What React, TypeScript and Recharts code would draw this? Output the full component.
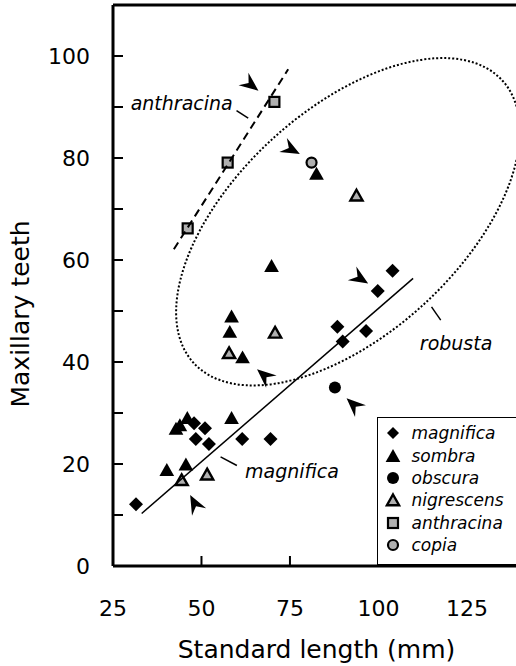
import React from 'react';
import { ScatterChart, Scatter, XAxis, YAxis, ReferenceLine, Label } from 'recharts';

// ---------- data ----------
const xTicks = [25, 50, 75, 100, 125];
const yTicks = [0, 10, 20, 30, 40, 50, 60, 70, 80, 90, 100];
const yLabelled = [0, 20, 40, 60, 80, 100];
const xTitle = 'Standard length (mm)';
const yTitle = 'Maxillary teeth';

const magnificaPts = [
  { x: 31.5, y: 12.1 }, { x: 47.9, y: 28.0 }, { x: 51.0, y: 27.0 }, { x: 48.4, y: 24.9 },
  { x: 52.1, y: 23.9 }, { x: 61.5, y: 24.9 }, { x: 69.5, y: 24.9 }, { x: 88.4, y: 46.9 },
  { x: 89.9, y: 44.0 }, { x: 96.5, y: 46.1 }, { x: 99.8, y: 53.9 }, { x: 104.0, y: 57.9 },
];
const sombraPts = [
  { x: 40.2, y: 18.8 }, { x: 45.6, y: 19.9 }, { x: 42.8, y: 26.9 }, { x: 43.9, y: 27.6 },
  { x: 46.0, y: 29.0 }, { x: 58.5, y: 29.0 }, { x: 61.6, y: 40.9 }, { x: 58.0, y: 45.9 },
  { x: 58.5, y: 48.9 }, { x: 69.8, y: 58.8 }, { x: 82.5, y: 76.9 },
];
const obscuraPts = [{ x: 87.7, y: 35.0 }];
const nigrescensPts = [
  { x: 44.4, y: 16.9 }, { x: 51.6, y: 18.0 }, { x: 57.8, y: 41.8 }, { x: 70.8, y: 45.8 }, { x: 93.8, y: 72.7 },
];
const anthracinaPts = [{ x: 46.1, y: 66.2 }, { x: 57.4, y: 79.1 }, { x: 70.6, y: 91.0 }];
const copiaPts = [{ x: 81.1, y: 79.1 }];

const magnificaFit = [{ x: 33.1, y: 10.3 }, { x: 109.8, y: 56.4 }];
const anthracinaFit = [{ x: 42.2, y: 62.1 }, { x: 74.5, y: 97.4 }];
// robusta ellipse: centre, end of major semi-axis, end of minor semi-axis
const robustaEllipse = [{ x: 91.4, y: 67.5 }, { x: 135.0, y: 95.2 }, { x: 112.8, y: 51.3 }];

const arrows = [
  { x: 66.1, y: 93.2, angle: 38 },
  { x: 77.8, y: 80.8, angle: 28 },
  { x: 97.1, y: 55.4, angle: 32 },
  { x: 65.7, y: 38.6, angle: -139 },
  { x: 91.0, y: 32.9, angle: -137 },
  { x: 46.8, y: 13.9, angle: -118 },
];
const annotations = [
  { x: 30.0, y: 89.4, text: 'anthracina' },
  { x: 111.7, y: 42.4, text: 'robusta' },
  { x: 62.3, y: 17.3, text: 'magnifica' },
];
const leaderAnthracina = [{ x: 59.9, y: 89.3 }, { x: 63.2, y: 87.8 }];
const leaderRobusta = [{ x: 115.0, y: 50.8 }, { x: 117.6, y: 48.2 }];
const leaderMagnifica = [{ x: 55.4, y: 21.4 }, { x: 60.0, y: 19.7 }];

const legendNames = ['magnifica', 'sombra', 'obscura', 'nigrescens', 'anthracina', 'copia'];

// ---------- styles ----------
const FONT = '"DejaVu Sans", Verdana, sans-serif';
const GREY = '#b0b0b0';

// ---------- marker shapes ----------
const diamondPath = (cx: number, cy: number) =>
  `M${cx},${cy - 7} L${cx + 7},${cy} L${cx},${cy + 7} L${cx - 7},${cy} Z`;
const triPath = (cx: number, cy: number, s: number) =>
  `M${cx},${cy - s} L${cx + s * 1.05},${cy + s * 0.85} L${cx - s * 1.05},${cy + s * 0.85} Z`;

const Diamond = (p: any) => <path d={diamondPath(p.cx, p.cy)} fill="#000" />;
const SolidTri = (p: any) => <path d={triPath(p.cx, p.cy, 7)} fill="#000" />;
const GreyTri = (p: any) => (
  <path d={triPath(p.cx, p.cy + 0.3, 5.8)} fill={GREY} stroke="#000" strokeWidth={2.4} strokeLinejoin="miter" />
);
const SolidCircle = (p: any) => <circle cx={p.cx} cy={p.cy} r={6} fill="#000" />;
const GreyCircle = (p: any) => <circle cx={p.cx} cy={p.cy} r={5} fill={GREY} stroke="#000" strokeWidth={2.2} />;
const GreySquare = (p: any) => (
  <rect x={p.cx - 5} y={p.cy - 5} width={10} height={10} fill={GREY} stroke="#000" strokeWidth={2.2} />
);
const Nothing = () => <g />;

const Arrow = (p: any) => {
  const a = p.payload?.angle ?? 0;
  return (
    <path
      d="M0,0 L-19,-8 L-12.5,0 L-19,8 Z"
      fill="#000"
      transform={`translate(${p.cx},${p.cy}) rotate(${a})`}
    />
  );
};
const Annot = (p: any) => (
  <text x={p.cx} y={p.cy} fontSize={19} fontStyle="italic" fontFamily={FONT} fill="#000">
    {p.payload?.text}
  </text>
);

const ellipseLine = (lp: any) => {
  const pts = lp.points || [];
  if (pts.length < 3) return <g />;
  const c = pts[0], a = pts[1], b = pts[2];
  const rx = Math.hypot(a.x - c.x, a.y - c.y);
  const ry = Math.hypot(b.x - c.x, b.y - c.y);
  const ang = (Math.atan2(a.y - c.y, a.x - c.x) * 180) / Math.PI;
  return (
    <ellipse
      cx={c.x}
      cy={c.y}
      rx={rx}
      ry={ry}
      transform={`rotate(${ang} ${c.x} ${c.y})`}
      fill="none"
      stroke="#000"
      strokeWidth={2}
      strokeDasharray="2 2"
    />
  );
};

// ---------- ticks ----------
const YTick = (p: any) => {
  const v = p.payload?.value;
  return (
    <g>
      {v !== 0 && <line x1={p.x} x2={p.x + 10} y1={p.y} y2={p.y} stroke="#000" strokeWidth={2} />}
      {yLabelled.includes(v) && (
        <text x={p.x - 23} y={p.y} dy="0.36em" textAnchor="end" fontSize={22} fontFamily={FONT} fill="#000">
          {v}
        </text>
      )}
    </g>
  );
};
const XTick = (p: any) => {
  const v = p.payload?.value;
  return (
    <g>
      {v !== 25 && <line x1={p.x} x2={p.x} y1={p.y} y2={p.y - 10} stroke="#000" strokeWidth={2} />}
      <text x={p.x} y={p.y + 50} textAnchor="middle" fontSize={22} fontFamily={FONT} fill="#000">
        {v}
      </text>
    </g>
  );
};

const XTitle = (p: any) => {
  const vb = p.viewBox || { x: 113, y: 566, width: 407, height: 100 };
  return (
    <text x={vb.x + vb.width / 2} y={vb.y + 92} textAnchor="middle" fontSize={25} fontFamily={FONT} fill="#000">
      {xTitle}
    </text>
  );
};
const YTitle = () => (
  <text
    x={29}
    y={314}
    transform="rotate(-90 29 314)"
    textAnchor="middle"
    fontSize={25}
    fontFamily={FONT}
    fill="#000"
  >
    {yTitle}
  </text>
);

// ---------- legend ----------
const LegendMarker = ({ name }: { name: string }) => {
  const p = { cx: 8, cy: 8 };
  let m: any = null;
  if (name === 'magnifica') m = <path d={`M8,2 L14,8 L8,14 L2,8 Z`} fill="#000" />;
  if (name === 'sombra') m = <SolidTri {...p} />;
  if (name === 'obscura') m = <SolidCircle {...p} />;
  if (name === 'nigrescens') m = <GreyTri {...p} />;
  if (name === 'anthracina') m = <GreySquare {...p} />;
  if (name === 'copia') m = <GreyCircle {...p} />;
  return (
    <svg width={16} height={16} style={{ display: 'block' }}>
      {m}
    </svg>
  );
};

const LegendBox = () => (
  <div
    style={{
      position: 'absolute',
      left: 377,
      top: 417,
      width: 160,
      height: 148,
      border: '1.5px solid #000',
      background: '#fff',
      boxSizing: 'border-box',
      paddingTop: 4,
    }}
  >
    {legendNames.map((n) => (
      <div key={n} style={{ display: 'flex', alignItems: 'center', height: 22.4 }}>
        <div style={{ width: 16, marginLeft: 6.5 }}>
          <LegendMarker name={n} />
        </div>
        <span
          style={{
            marginLeft: 11,
            fontFamily: FONT,
            fontStyle: 'italic',
            fontSize: 17,
            color: '#000',
            lineHeight: '22px',
          }}
        >
          {n}
        </span>
      </div>
    ))}
  </div>
);

export default function App() {
  return (
    <div style={{ position: 'relative', width: 516, height: 666, overflow: 'hidden', background: '#fff' }}>
      <style>{'body{margin:0;background:#fff;}'}</style>
      <ScatterChart width={530} height={666} margin={{ top: 5, right: 10, bottom: 0, left: 0 }}>
        <XAxis
          type="number"
          dataKey="x"
          domain={[25, 140]}
          ticks={xTicks}
          interval={0}
          allowDataOverflow
          height={100}
          tickSize={0}
          tickMargin={0}
          tickLine={false}
          axisLine={{ stroke: '#000', strokeWidth: 3 }}
          tick={<XTick />}
        >
          <Label content={<XTitle />} />
        </XAxis>
        <YAxis
          type="number"
          dataKey="y"
          domain={[0, 110]}
          ticks={yTicks}
          interval={0}
          allowDataOverflow
          width={113}
          tickSize={0}
          tickMargin={0}
          tickLine={false}
          axisLine={{ stroke: '#000', strokeWidth: 3 }}
          tick={<YTick />}
        >
          <Label content={<YTitle />} />
        </YAxis>
        <ReferenceLine y={110} stroke="#000" strokeWidth={3} />
        <ReferenceLine x={140} stroke="#000" strokeWidth={3} />

        <Scatter name="robusta ellipse" data={robustaEllipse} shape={Nothing} line={ellipseLine} lineType="joint" legendType="none" isAnimationActive={false} />

        <Scatter name="magnifica" data={magnificaPts} shape={Diamond} isAnimationActive={false} />
        <Scatter name="sombra" data={sombraPts} shape={SolidTri} isAnimationActive={false} />
        <Scatter name="obscura" data={obscuraPts} shape={SolidCircle} isAnimationActive={false} />
        <Scatter name="nigrescens" data={nigrescensPts} shape={GreyTri} isAnimationActive={false} />
        <Scatter name="anthracina" data={anthracinaPts} shape={GreySquare} isAnimationActive={false} />
        <Scatter name="copia" data={copiaPts} shape={GreyCircle} isAnimationActive={false} />

        <Scatter name="magnifica fit" data={magnificaFit} shape={Nothing} line={{ stroke: '#000', strokeWidth: 1.5 }} lineType="joint" legendType="none" isAnimationActive={false} />
        <Scatter name="anthracina fit" data={anthracinaFit} shape={Nothing} line={{ stroke: '#000', strokeWidth: 2, strokeDasharray: '8 5' }} lineType="joint" legendType="none" isAnimationActive={false} />
        <Scatter name="leader a" data={leaderAnthracina} shape={Nothing} line={{ stroke: '#000', strokeWidth: 1.5 }} lineType="joint" legendType="none" isAnimationActive={false} />
        <Scatter name="leader r" data={leaderRobusta} shape={Nothing} line={{ stroke: '#000', strokeWidth: 1.5 }} lineType="joint" legendType="none" isAnimationActive={false} />
        <Scatter name="leader m" data={leaderMagnifica} shape={Nothing} line={{ stroke: '#000', strokeWidth: 1.5 }} lineType="joint" legendType="none" isAnimationActive={false} />

        <Scatter name="arrows" data={arrows} shape={Arrow} legendType="none" isAnimationActive={false} />
        <Scatter name="annotations" data={annotations} shape={Annot} legendType="none" isAnimationActive={false} />
      </ScatterChart>
      <LegendBox />
    </div>
  );
}
